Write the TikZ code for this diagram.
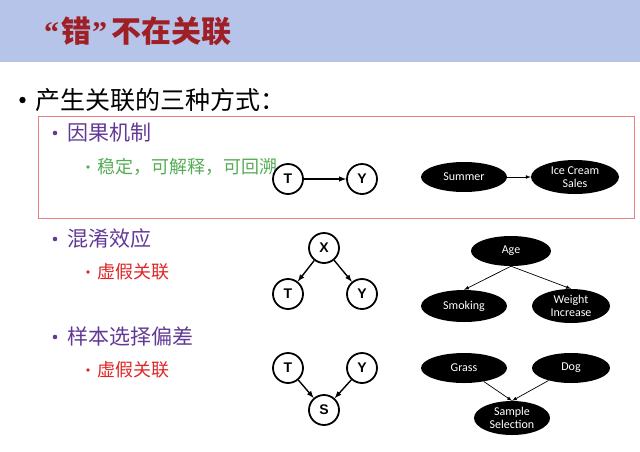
\documentclass[tikz,border=0pt]{standalone}
\usepackage{fontspec}
\newfontfamily\cjk{Noto Sans CJK SC}
\newfontfamily\lbl{Carlito}
\newfontfamily\arl{Liberation Sans}
\newfontfamily\quo{Liberation Serif}
\usetikzlibrary{arrows,shapes.geometric}
\definecolor{band}{RGB}{183,196,233}
\definecolor{titlered}{RGB}{158,32,38}
\definecolor{boxred}{RGB}{236,128,128}
\definecolor{lilac}{RGB}{98,58,150}
\definecolor{leaf}{RGB}{84,172,84}
\definecolor{alarm}{RGB}{222,38,38}

\begin{document}
\begin{tikzpicture}[x=1pt,y=-1pt,
	var/.style={circle,draw,line width=1.8pt,minimum size=30pt,inner sep=0pt,
		font=\arl\bfseries\fontsize{14}{14}\selectfont},
	blob/.style={ellipse,fill=black,text=white,inner sep=0pt,align=center,
		font=\lbl\fontsize{12}{13.5}\selectfont},
	link/.style={-latex,line width=1.4pt},
	fine link/.style={-latex,line width=0.7pt},
	say/.style={anchor=west,inner sep=0pt}]
	\useasboundingbox (0,0) rectangle (640,451);
	% header
	\fill[band] (0,0) rectangle (640,62);
	\node[say,text=titlered,font=\cjk\bfseries\fontsize{30}{30}\selectfont] (title) at (44,31)
		{{\quo\bfseries “}\hspace{2pt}错\hspace{1pt}{\quo\bfseries ”}\hspace{4pt}不在关联};
	% bullets
	\fill (22.5,100) circle (3.2);
	\node[say,font=\cjk\fontsize{25}{25}\selectfont] (ways) at (35,100) {产生关联的三种方式：};
	\draw[boxred,line width=1pt] (38,116) rectangle (634,218);
	\fill[lilac] (55,133) circle (2.3);
	\node[say,text=lilac,font=\cjk\fontsize{21}{21}\selectfont] (cause) at (67,133) {因果机制};
	\fill[leaf] (88,167) circle (1.9);
	\node[say,text=leaf,font=\cjk\fontsize{18}{18}\selectfont] (stable) at (97,167) {稳定，可解释，可回溯};
	\fill[lilac] (55,239) circle (2.3);
	\node[say,text=lilac,font=\cjk\fontsize{21}{21}\selectfont] (conf) at (67,239) {混淆效应};
	\fill[alarm] (88,272) circle (1.9);
	\node[say,text=alarm,font=\cjk\fontsize{18}{18}\selectfont] (spur1) at (97,272) {虚假关联};
	\fill[lilac] (55,337) circle (2.3);
	\node[say,text=lilac,font=\cjk\fontsize{21}{21}\selectfont] (sel) at (67,337) {样本选择偏差};
	\fill[alarm] (88,370) circle (1.9);
	\node[say,text=alarm,font=\cjk\fontsize{18}{18}\selectfont] (spur2) at (97,370) {虚假关联};
	% causal graphs
	\node[var,fill=white] (t1) at (288,179) {T};
	\node[var] (y1) at (362,179) {Y};
	\node[var] (x2) at (324,248) {X};
	\node[var] (t2) at (288,294) {T};
	\node[var] (y2) at (362,294) {Y};
	\node[var] (t3) at (288,368) {T};
	\node[var] (y3) at (362,368) {Y};
	\node[var] (s3) at (324,410) {S};
	\draw[link] (t1) -- (y1);
	\draw[link] (x2) -- (t2);
	\draw[link] (x2) -- (y2);
	\draw[link] (t3) -- (s3);
	\draw[link] (y3) -- (s3);
	% examples
	\node[blob,minimum width=86pt,minimum height=30pt] (summer) at (464,177) {Summer};
	\node[blob,minimum width=88pt,minimum height=34pt] (ice) at (575,177) {Ice Cream\\Sales};
	\node[blob,minimum width=80pt,minimum height=30pt] (age) at (511,251) {Age};
	\node[blob,minimum width=86pt,minimum height=32pt] (smoke) at (464,306) {Smoking};
	\node[blob,minimum width=78pt,minimum height=34pt] (weight) at (571,306) {Weight\\Increase};
	\node[blob,minimum width=86pt,minimum height=30pt] (grass) at (464,368) {Grass};
	\node[blob,minimum width=78pt,minimum height=30pt] (dog) at (571,368) {Dog};
	\node[blob,minimum width=76pt,minimum height=34pt] (sample) at (512,418) {Sample\\Selection};
	\draw[fine link] (summer) -- (ice);
	\draw[fine link] (age.south) -- (smoke.north);
	\draw[fine link] (age.south) -- (weight.north);
	\draw[fine link] (grass) -- (sample.north);
	\draw[fine link] (dog) -- (sample.north);
\end{tikzpicture}
\end{document}
